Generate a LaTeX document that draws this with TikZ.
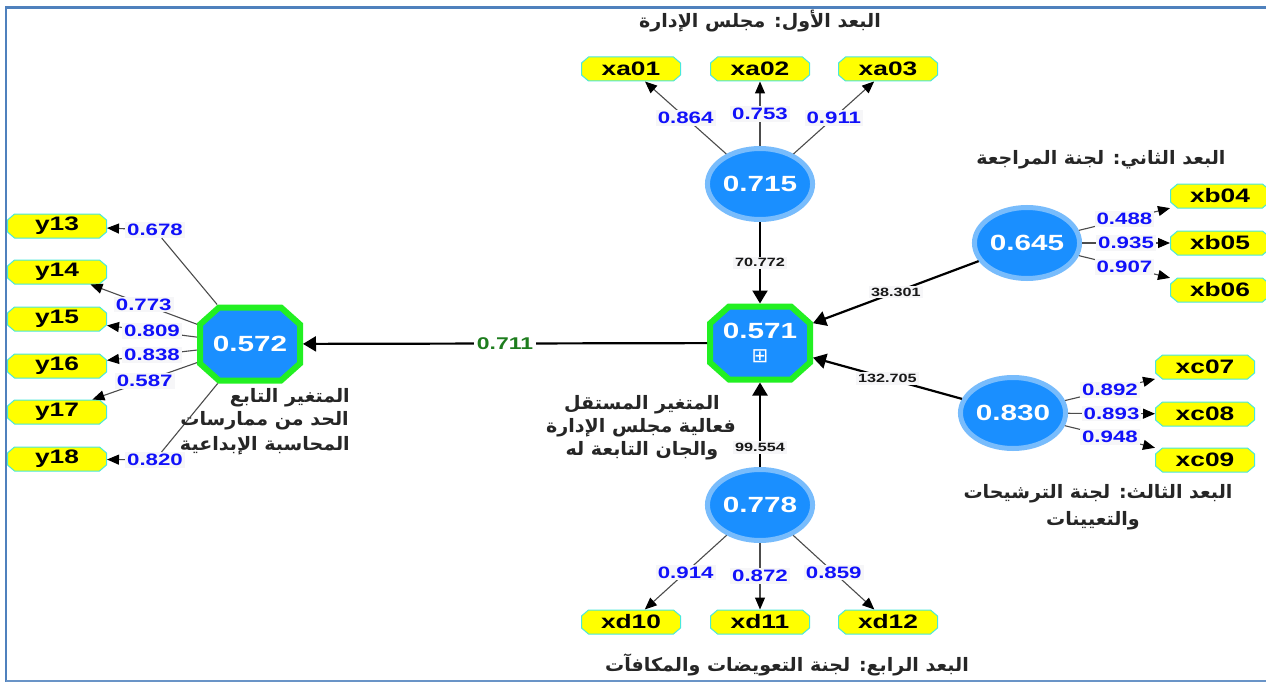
\documentclass[tikz,border=0pt]{standalone}
\usepackage{fontspec}
\setmainfont{Liberation Sans}[FakeStretch=1.35]
\newfontfamily\arfont[Script=Arabic,FakeStretch=1.03]{DejaVu Sans}
\newfontfamily\symfont{DejaVu Sans}
\TeXXeTstate=1
\usetikzlibrary{shapes.geometric,arrows.meta}
\definecolor{frameblue}{HTML}{4F81BD}
\definecolor{latfill}{HTML}{1A8FFF}
\definecolor{latring}{HTML}{78BCFC}
\definecolor{octgreen}{HTML}{22F022}
\definecolor{indfill}{HTML}{FFFF00}
\definecolor{indedge}{HTML}{48E8DC}
\definecolor{loadblue}{HTML}{1010FA}
\definecolor{pathgreen}{HTML}{1E7D1E}
\definecolor{lblbg}{HTML}{F6F6F8}
\newcommand{\artext}[1]{{\arfont\bfseries\beginR #1\endR}}

% a box with its four corners cut off
\makeatletter
\newdimen\cbxa \newdimen\cbya \newdimen\cbxb \newdimen\cbyb
\newdimen\cbcx \newdimen\cbcy \newdimen\cbox \newdimen\cboy
\pgfkeys{/pgf/cut size x/.initial=6pt, /pgf/cut size y/.initial=6pt}
\pgfdeclareshape{cut box}{%
  \inheritsavedanchors[from=rectangle]%
  \inheritanchorborder[from=rectangle]%
  \inheritanchor[from=rectangle]{center}%
  \inheritanchor[from=rectangle]{text}%
  \inheritanchor[from=rectangle]{mid}%
  \inheritanchor[from=rectangle]{base}%
  \inheritanchor[from=rectangle]{north}%
  \inheritanchor[from=rectangle]{south}%
  \inheritanchor[from=rectangle]{east}%
  \inheritanchor[from=rectangle]{west}%
  \inheritanchor[from=rectangle]{north east}%
  \inheritanchor[from=rectangle]{north west}%
  \inheritanchor[from=rectangle]{south east}%
  \inheritanchor[from=rectangle]{south west}%
  \backgroundpath{%
    \southwest \cbxa=\pgf@x \cbya=\pgf@y
    \northeast \cbxb=\pgf@x \cbyb=\pgf@y
    \pgfmathsetlength\cbox{\pgfkeysvalueof{/pgf/outer xsep}}%
    \pgfmathsetlength\cboy{\pgfkeysvalueof{/pgf/outer ysep}}%
    \advance\cbxa by\cbox \advance\cbxb by-\cbox
    \advance\cbya by\cboy \advance\cbyb by-\cboy
    \pgfmathsetlength\cbcx{\pgfkeysvalueof{/pgf/cut size x}}%
    \pgfmathsetlength\cbcy{\pgfkeysvalueof{/pgf/cut size y}}%
    \pgfpathmoveto{\pgfqpoint{\cbxa}{\dimexpr\cbya+\cbcy\relax}}%
    \pgfpathlineto{\pgfqpoint{\dimexpr\cbxa+\cbcx\relax}{\cbya}}%
    \pgfpathlineto{\pgfqpoint{\dimexpr\cbxb-\cbcx\relax}{\cbya}}%
    \pgfpathlineto{\pgfqpoint{\cbxb}{\dimexpr\cbya+\cbcy\relax}}%
    \pgfpathlineto{\pgfqpoint{\cbxb}{\dimexpr\cbyb-\cbcy\relax}}%
    \pgfpathlineto{\pgfqpoint{\dimexpr\cbxb-\cbcx\relax}{\cbyb}}%
    \pgfpathlineto{\pgfqpoint{\dimexpr\cbxa+\cbcx\relax}{\cbyb}}%
    \pgfpathlineto{\pgfqpoint{\cbxa}{\dimexpr\cbyb-\cbcy\relax}}%
    \pgfpathclose
  }%
}
\makeatother

\tikzset{
  lat/.style={ellipse, fill=latfill, draw=latring, line width=5pt,
    minimum width=96pt, minimum height=71pt, inner sep=0pt, text=white,
    font=\fontsize{22}{22}\selectfont\bfseries},
  oct/.style={cut box, cut size x=19pt, cut size y=17pt,
    fill=latfill, draw=octgreen, line width=6pt, inner sep=0pt,
    minimum width=100pt, minimum height=73pt, text=white, align=center,
    font=\fontsize{22}{22}\selectfont\bfseries},
  ind/.style={cut box, cut size x=7pt, cut size y=6pt,
    fill=indfill, draw=indedge, line width=1pt, inner sep=0pt,
    minimum width=99pt, minimum height=24pt,
    font=\fontsize{19.5}{19.5}\selectfont\bfseries},
  load/.style={draw=black!70, line width=1.1pt,
    -{Triangle[length=12pt,width=10pt,color=black]}},
  plain/.style={draw=black!70, line width=1.1pt},
  lv/.style={fill=lblbg, text=loadblue, inner xsep=2pt, inner ysep=2pt,
    font=\fontsize{16.5}{17}\selectfont\bfseries},
  struct/.style={draw=black, line width=2.2pt,
    -{Triangle[length=13pt,width=15pt]}},
  pv/.style={fill=lblbg, inner sep=2pt, text=black!90,
    font=\fontsize{12}{12}\selectfont\bfseries},
  arlbl/.style={inner sep=0pt, text=black!85, font=\fontsize{18.5}{20}\selectfont},
}
\begin{document}
\begin{tikzpicture}[x=1pt,y=-1pt]
\useasboundingbox (0,0) rectangle (1266,682);
\fill[white] (0,0) rectangle (1266,682);
% frame
\draw[frameblue, line width=2.5pt] (1266,7.5) -- (6,7.5) -- (6,682);
\draw[frameblue!85, line width=1.5pt] (6,681) -- (1266,681);

% latent variables
\node[lat] (L715) at (760,184) {0.715};
\node[lat] (L645) at (1027,243) {0.645};
\node[lat] (L830) at (1013,413) {0.830};
\node[lat] (L778) at (760,505) {0.778};
\node[oct] (C571) at (760,343) {0.571\\[2pt]{\symfont\fontsize{20}{20}\selectfont\mdseries ⊞}};
\node[oct] (C572) at (250,344) {0.572};

% indicators
\node[ind] (xa01) at (631,69) {xa01};
\node[ind] (xa02) at (760,69) {xa02};
\node[ind] (xa03) at (888,69) {xa03};
\node[ind] (xb04) at (1220,196) {xb04};
\node[ind] (xb05) at (1220,243) {xb05};
\node[ind] (xb06) at (1220,290) {xb06};
\node[ind] (xc07) at (1205,367) {xc07};
\node[ind] (xc08) at (1205,414) {xc08};
\node[ind] (xc09) at (1205,460) {xc09};
\node[ind] (xd10) at (631,622) {xd10};
\node[ind] (xd11) at (760,622) {xd11};
\node[ind] (xd12) at (888,622) {xd12};
\node[ind] (y13) at (57,226) {y13};
\node[ind] (y14) at (57,272) {y14};
\node[ind] (y15) at (57,319) {y15};
\node[ind] (y16) at (57,366) {y16};
\node[ind] (y17) at (57,412) {y17};
\node[ind] (y18) at (57,459) {y18};

% outer loadings
\draw[load] (L715) -- node[lv] {0.864} (xa01);
\draw[load] (L715) -- node[lv] {0.753} (xa02);
\draw[load] (L715) -- node[lv] {0.911} (xa03);
\draw[load] (L645) -- node[lv] {0.488} (xb04);
\draw[load] (L645) -- node[lv] {0.935} (xb05);
\draw[load] (L645) -- node[lv] {0.907} (xb06);
\draw[load] (L830) -- node[lv] {0.892} (xc07);
\draw[load] (L830) -- node[lv] {0.893} (xc08);
\draw[load] (L830) -- node[lv] {0.948} (xc09);
\draw[load] (L778) -- node[lv] {0.914} (xd10);
\draw[load] (L778) -- node[lv] {0.872} (xd11);
\draw[load] (L778) -- node[lv] {0.859} (xd12);
\node[lv] (l13) at (155,230) {0.678};
\draw[plain] (C572) -- (l13);
\draw[load] (l13) -- (y13);
\draw[load] (C572) -- node[lv] {0.773} (y14);
\draw[load] (C572) -- node[lv] {0.809} (y15);
\draw[load] (C572) -- node[lv] {0.838} (y16);
\draw[load] (C572) -- node[lv] {0.587} (y17);
\node[lv] (l18) at (155,460) {0.820};
\draw[plain] (C572) -- (l18);
\draw[load] (l18) -- (y18);

% structural paths
\draw[struct] (L715) -- node[pv] {70.772} (C571);
\draw[struct] (L645) -- node[pv] {38.301} (C571);
\draw[struct] (L830) -- node[pv] {132.705} (C571);
\draw[struct] (L778) -- node[pv, pos=0.23] {99.554} (C571);
\draw[struct] (C571) -- node[fill=white, inner sep=3pt, text=pathgreen,
  font=\fontsize{17}{17}\selectfont\bfseries] {0.711} (C572);

% construct captions
\node[arlbl] (tA) at (760,21) {\artext{البعد الأول: مجلس الإدارة}};
\node[arlbl] (tB) at (1101,160) {\artext{البعد الثاني: لجنة المراجعة}};
\node[arlbl] (tC1) at (1098,494) {\artext{البعد الثالث: لجنة الترشيحات}};
\node[arlbl] (tC2) at (1093,521) {\artext{والتعيينات}};
\node[arlbl] (tD) at (787,665) {\artext{البعد الرابع: لجنة التعويضات والمكافآت}};
\node[arlbl] (tI1) at (642,405) {\artext{المتغير المستقل}};
\node[arlbl] (tI2) at (641,428) {\artext{فعالية مجلس الإدارة}};
\node[arlbl] (tI3) at (642,451) {\artext{والجان التابعة له}};
\node[arlbl, anchor=east] (tY1) at (350,398) {\artext{المتغير التابع}};
\node[arlbl, anchor=east] (tY2) at (349,421) {\artext{الحد من ممارسات}};
\node[arlbl, anchor=east] (tY3) at (350,446) {\artext{المحاسبة الإبداعية}};
\end{tikzpicture}
\end{document}
